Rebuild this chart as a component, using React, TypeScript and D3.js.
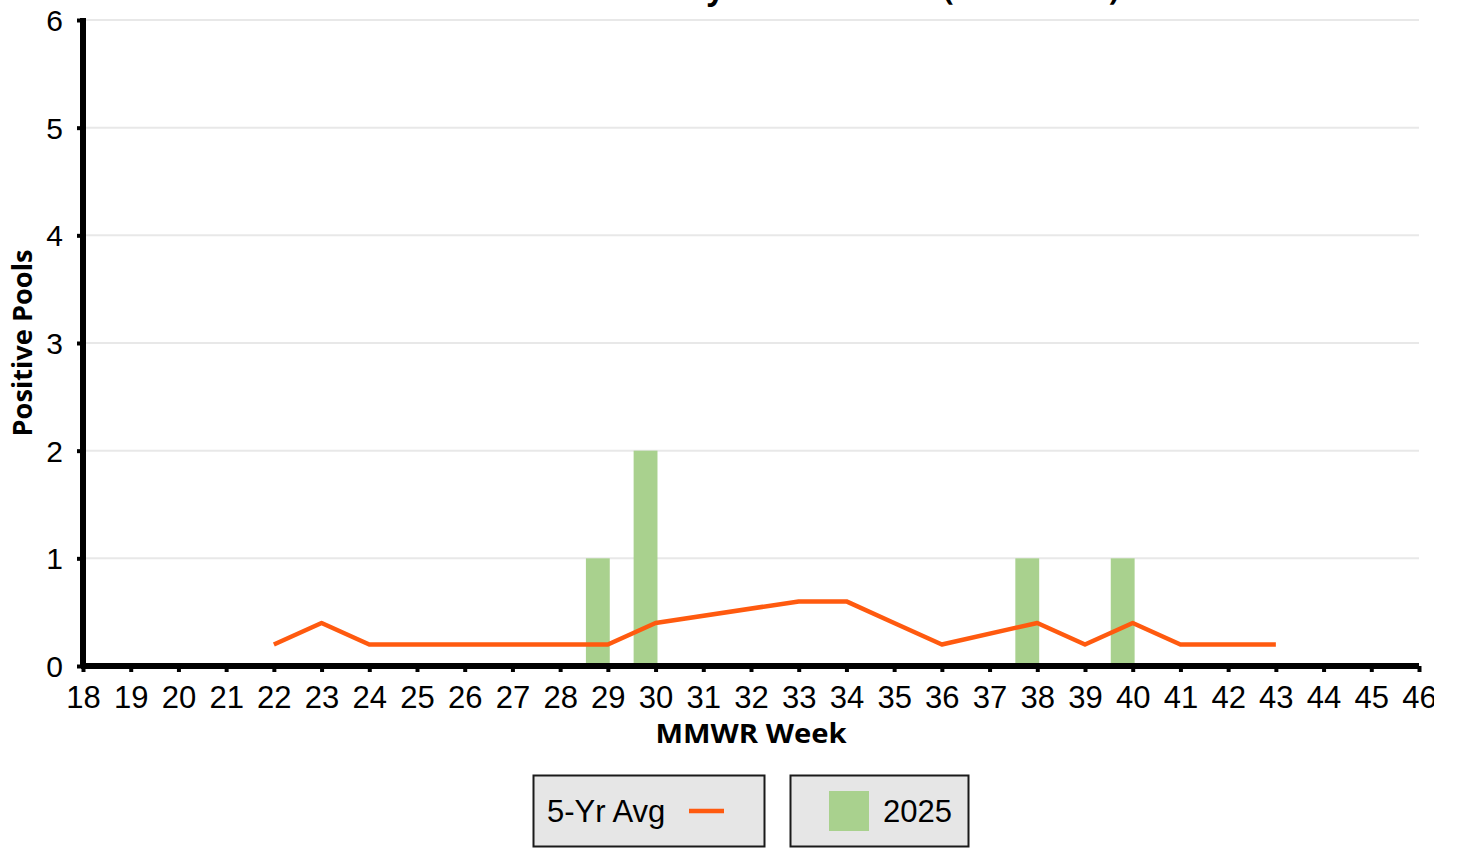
import { useEffect, useRef } from 'react';
import * as d3 from 'd3';

// Weeks shown on the x axis
const weeks = d3.range(18, 47);

// 2025 positive pools (bars)
const barWeeks = [29, 30, 38, 40];
const barValues = [1, 2, 1, 1];

// 5-year average (line)
const avgWeeks = [22, 23, 24, 25, 26, 27, 28, 29, 30, 33, 34, 35, 36, 38, 39, 40, 41, 42, 43];
const avgValues = [0.2, 0.4, 0.2, 0.2, 0.2, 0.2, 0.2, 0.2, 0.4, 0.6, 0.6, 0.4, 0.2, 0.4, 0.2, 0.4, 0.2, 0.2, 0.2];

const yTicks = [0, 1, 2, 3, 4, 5, 6];

const title = 'WNV Positive Pools by MMWR Week (Statewide)';
const legendLine = '5-Yr Avg';
const legendBar = '2025';

const ORANGE = '#ff5a0f';
const GREEN = '#a9d18e';
const TICK_FONT = '"Liberation Sans", Arial, sans-serif';
const TITLE_FONT = '"Open Sans", "DejaVu Sans", sans-serif';

export default function App() {
  const svgRef = useRef<SVGSVGElement>(null);

  useEffect(() => {
    if (!svgRef.current) return;
    const root = d3.select(svgRef.current);
    root.selectAll('*').remove();

    const left = 83;
    const right = 1419;
    const top = 20;
    const bottom = 666;

    const x = d3.scaleLinear().domain([18, 46]).range([left, right]);
    const y = d3.scaleLinear().domain([0, 6]).range([bottom, top]);
    const step = x(19) - x(18);

    // Title (mostly above the visible page, as in the original export)
    root
      .append('text')
      .attr('x', (left + right) / 2)
      .attr('y', 0)
      .attr('text-anchor', 'middle')
      .attr('font-family', TITLE_FONT)
      .attr('font-weight', 700)
      .attr('font-size', 31)
      .text(title);

    // Grid lines
    root
      .append('g')
      .selectAll('line')
      .data(yTicks.filter((t) => t > 0))
      .join('line')
      .attr('x1', left)
      .attr('x2', right)
      .attr('y1', (d) => y(d))
      .attr('y2', (d) => y(d))
      .attr('stroke', '#e8e8e8')
      .attr('stroke-width', 2);

    // Bars
    root
      .append('g')
      .selectAll('rect')
      .data(barWeeks.map((w, i) => ({ w, v: barValues[i] })))
      .join('rect')
      .attr('x', (d) => x(d.w) - step * 0.46)
      .attr('width', step * 0.5)
      .attr('y', (d) => y(d.v))
      .attr('height', (d) => y(0) - y(d.v))
      .attr('fill', GREEN);

    // 5-yr average line
    const line = d3
      .line<number>()
      .x((_, i) => x(avgWeeks[i]))
      .y((d) => y(d));

    root
      .append('path')
      .datum(avgValues)
      .attr('fill', 'none')
      .attr('stroke', ORANGE)
      .attr('stroke-width', 4.5)
      .attr('stroke-linejoin', 'round')
      .attr('d', line);

    // Y axis
    const yAxis = root
      .append('g')
      .attr('transform', `translate(${left},0)`)
      .call(d3.axisLeft(y).tickValues(yTicks).tickSize(6).tickPadding(14).tickFormat(d3.format('d')));
    yAxis.select('.domain').attr('stroke', '#000').attr('stroke-width', 6).attr('d', `M0,${top - 2}V${bottom + 2}`);
    yAxis.selectAll('.tick line').attr('stroke', '#000').attr('stroke-width', 4);
    yAxis
      .selectAll('.tick text')
      .attr('font-family', TICK_FONT)
      .attr('font-size', 30)
      .attr('fill', '#000')
      .attr('dy', '0.35em');

    // X axis
    const xAxis = root
      .append('g')
      .attr('transform', `translate(0,${bottom})`)
      .call(d3.axisBottom(x).tickValues(weeks).tickSize(6).tickPadding(14).tickFormat(d3.format('d')));
    xAxis.select('.domain').attr('stroke', '#000').attr('stroke-width', 6).attr('d', `M${left - 2},0H${right}`);
    xAxis.selectAll('.tick line').attr('stroke', '#000').attr('stroke-width', 4);
    xAxis
      .selectAll('.tick text')
      .attr('font-family', TICK_FONT)
      .attr('font-size', 31)
      .attr('fill', '#000');

    // Axis titles
    root
      .append('text')
      .attr('x', (left + right) / 2)
      .attr('y', 743)
      .attr('text-anchor', 'middle')
      .attr('font-family', TITLE_FONT)
      .attr('font-weight', 700)
      .attr('font-size', 26)
      .attr('textLength', 191)
      .attr('lengthAdjust', 'spacingAndGlyphs')
      .text('MMWR Week');

    root
      .append('text')
      .attr('transform', `translate(32,${(top + bottom) / 2}) rotate(-90)`)
      .attr('text-anchor', 'middle')
      .attr('font-family', TITLE_FONT)
      .attr('font-weight', 700)
      .attr('font-size', 26)
      .attr('textLength', 187)
      .attr('lengthAdjust', 'spacingAndGlyphs')
      .text('Positive Pools');

    // Legend
    const lg = root.append('g').attr('font-family', TICK_FONT).attr('font-size', 31);
    lg.append('rect')
      .attr('x', 533.5)
      .attr('y', 775.5)
      .attr('width', 231)
      .attr('height', 71)
      .attr('fill', '#e6e6e6')
      .attr('stroke', '#1a1a1a')
      .attr('stroke-width', 2);
    lg.append('text').attr('x', 547).attr('y', 822).text(legendLine);
    lg.append('line')
      .attr('x1', 689)
      .attr('x2', 724)
      .attr('y1', 811)
      .attr('y2', 811)
      .attr('stroke', ORANGE)
      .attr('stroke-width', 4.5);

    lg.append('rect')
      .attr('x', 790.5)
      .attr('y', 775.5)
      .attr('width', 178)
      .attr('height', 71)
      .attr('fill', '#e6e6e6')
      .attr('stroke', '#1a1a1a')
      .attr('stroke-width', 2);
    lg.append('rect').attr('x', 829).attr('y', 791).attr('width', 40).attr('height', 40).attr('fill', GREEN);
    lg.append('text').attr('x', 883).attr('y', 822).text(legendBar);
  }, []);

  return (
    <svg
      ref={svgRef}
      width={1434}
      height={850}
      style={{ position: 'absolute', left: 0, top: 0, background: '#fff', overflow: 'hidden' }}
    />
  );
}
